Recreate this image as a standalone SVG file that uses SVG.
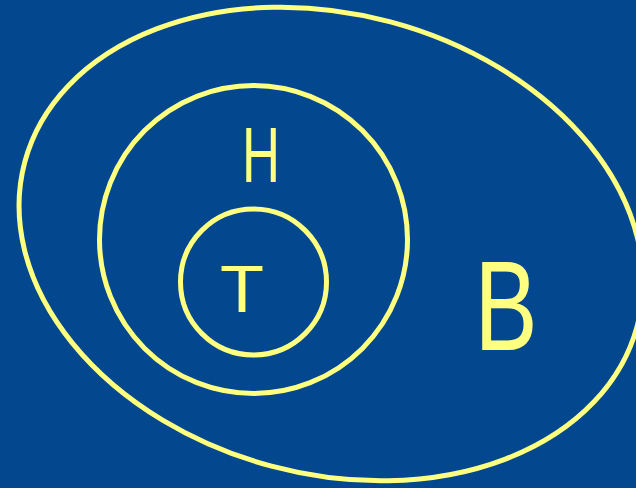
<svg xmlns="http://www.w3.org/2000/svg" width="636" height="488" viewBox="0 0 636 488">
<style>
.set{fill:none;stroke:#FFFF80;stroke-width:5}
.lbl{fill:#FFFF80;font-family:"Liberation Sans",Arial,sans-serif;text-anchor:middle}
</style>
<rect x="0" y="0" width="636" height="488" fill="#03478F"/>
<g id="B">
<ellipse class="set" cx="331" cy="244" rx="317" ry="230" transform="rotate(15 331 244)"/>
<text class="lbl" x="506" y="350" font-size="128" textLength="63" lengthAdjust="spacingAndGlyphs">B</text>
</g>
<g id="H">
<circle class="set" cx="253.5" cy="239.5" r="154"/>
<text class="lbl" x="261" y="182" font-size="78" textLength="38" lengthAdjust="spacingAndGlyphs">H</text>
</g>
<g id="T">
<circle class="set" cx="253.5" cy="282" r="73"/>
<text class="lbl" x="242" y="312" font-size="67" textLength="44" lengthAdjust="spacingAndGlyphs">T</text>
</g>
<g id="connectors"/>
</svg>
